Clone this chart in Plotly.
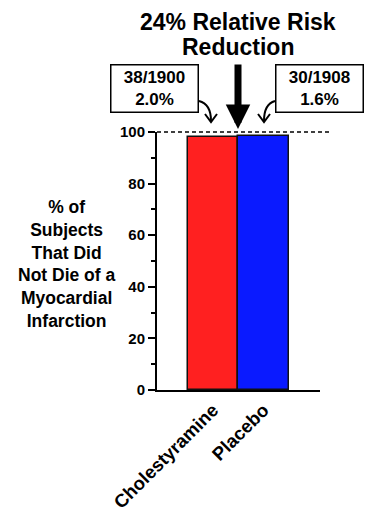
import plotly.graph_objects as go

categories = ["Cholestyramine", "Placebo"]
events = [38, 30]
totals = [1900, 1908]
event_rates = [2.0, 1.6]
survival_pct = [98.0, 98.4]
bar_colors = ["#ff2020", "#0a1aff"]
y_ticks = [0, 20, 40, 60, 80, 100]
title_lines = ["24% Relative Risk", "Reduction"]
y_title = "% of<br>Subjects<br>That Did<br>Not Die of a<br>Myocardial<br>Infarction"

FONT = "Liberation Sans, Arial, sans-serif"
OFF = 8  # page body margin
W, H = 374 - OFF, 527 - OFF
# plot area in screenshot pixels: x 157..320, y 132..390
L, R, T, B = 157 - OFF, 374 - 320, 132 - OFF, 527 - 390
pw, ph = W - L - R, H - T - B


def px(x):
    return (x - 157) / pw


def py(y):
    return (390 - y) / ph


fig = go.Figure()
fig.add_trace(go.Bar(
    x=categories, y=survival_pct, width=1.0,
    marker=dict(color=bar_colors, line=dict(color="#111111", width=1.5)),
))

fig.update_layout(
    width=W, height=H,
    margin=dict(l=L, r=R, t=T, b=B),
    paper_bgcolor="white", plot_bgcolor="white",
    showlegend=False,
    font=dict(family=FONT, color="black"),
    bargap=0,
)
fig.update_xaxes(
    range=[-1.11, 2.12], showline=True, linecolor="black", linewidth=2,
    ticks="", tickangle=-45, tickfont=dict(size=18.5, family=FONT, color="black"),
    showgrid=False, zeroline=False,
    tickvals=categories, ticktext=["<b>" + c + "</b>" for c in categories],
)
fig.update_yaxes(
    range=[0, 100], showline=True, linecolor="black", linewidth=2,
    ticks="outside", ticklen=7, tickwidth=2, tickcolor="black",
    tickvals=y_ticks, ticktext=["<b>%d</b>" % v for v in y_ticks],
    tickfont=dict(size=15, family=FONT, color="black"),
    minor=dict(dtick=10, ticks="outside", ticklen=4, tickwidth=1.5, tickcolor="black"),
    showgrid=False, zeroline=False,
)

# title, two lines
fig.add_annotation(text="<b>" + title_lines[0] + "</b>", xref="paper", yref="paper",
                   x=px(238), y=py(OFF), xanchor="center", yanchor="top",
                   showarrow=False, borderpad=0,
                   font=dict(size=23, family=FONT, color="black"))
fig.add_annotation(text="<b>" + title_lines[1] + "</b>", xref="paper", yref="paper",
                   x=px(238), y=py(47), xanchor="center", yanchor="middle",
                   showarrow=False, borderpad=0,
                   font=dict(size=23, family=FONT, color="black"))

# dashed reference line at 100%
fig.add_shape(type="line", xref="paper", yref="paper", x0=0, x1=px(329), y0=1, y1=1,
              line=dict(color="black", width=1.5, dash="4px,3px"))

# y title
fig.add_annotation(text="<b>" + y_title + "</b>", xref="paper", yref="paper",
                   x=px(66), y=py(264), xanchor="center", yanchor="middle",
                   showarrow=False, align="center",
                   font=dict(size=17.5, family=FONT, color="black"))

# curved arrows


def pth(points, cmd):
    return cmd.format(*[v for p in points for v in (px(p[0]), py(p[1]))])


for pts_curve, pts_head in [
    ([(199, 101), (211, 104), (211, 121)], [(205, 114), (211, 122), (217, 114)]),
    ([(275, 101), (264, 104), (264, 121)], [(258, 114), (264, 122), (270, 114)]),
]:
    fig.add_shape(type="path", xref="paper", yref="paper",
                  path=pth(pts_curve, "M {0},{1} Q {2},{3} {4},{5}"),
                  line=dict(color="black", width=2))
    fig.add_shape(type="path", xref="paper", yref="paper",
                  path=pth(pts_head, "M {0},{1} L {2},{3} L {4},{5}"),
                  line=dict(color="black", width=2))

# boxes
for i, cx in enumerate([154, 319]):
    fig.add_annotation(
        text="<b>%d/%d<br>%.1f%%</b>" % (events[i], totals[i], event_rates[i]),
        xref="paper", yref="paper", x=px(cx), y=py(89),
        xanchor="center", yanchor="middle", showarrow=False,
        bordercolor="black", borderwidth=1.5, bgcolor="white", borderpad=0,
        width=86, height=46, align="center",
        font=dict(size=17, family=FONT, color="black"))

# central thick arrow
fig.add_annotation(text="", xref="paper", yref="paper", x=px(238), y=py(129),
                   ax=0, ay=-66, showarrow=True, arrowhead=2, arrowsize=0.7,
                   arrowwidth=7, arrowcolor="black")

fig.write_html("out.html")
